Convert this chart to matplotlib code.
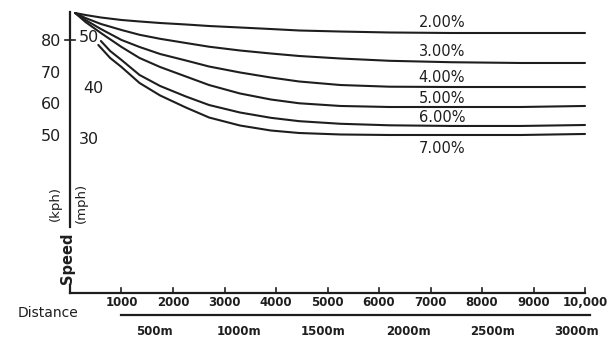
import matplotlib
matplotlib.use("Agg")
import matplotlib.pyplot as plt

# distance in feet, speed in mph
x_upper = [100, 300, 600, 1000, 1350, 1750, 2250, 2700, 3300, 3900, 4450, 5250, 6200, 7400, 8750, 10000]
speed_2 = [54.90, 54.51, 54.02, 53.53, 53.24, 52.94, 52.65, 52.35, 52.06, 51.76, 51.47, 51.27, 51.08, 50.98, 50.98, 50.98]
speed_3 = [54.90, 53.92, 52.75, 51.57, 50.63, 49.84, 49.02, 48.29, 47.55, 46.96, 46.47, 45.98, 45.53, 45.25, 45.10, 45.10]
speed_4 = [54.90, 53.53, 51.76, 49.61, 48.24, 46.86, 45.59, 44.41, 43.24, 42.25, 41.47, 40.78, 40.45, 40.39, 40.39, 40.39]
speed_5 = [54.90, 53.14, 50.98, 48.24, 46.08, 44.31, 42.45, 40.78, 39.12, 37.94, 37.20, 36.67, 36.47, 36.47, 36.47, 36.67]

x_6 = [600, 780, 1000, 1350, 1750, 2250, 2700, 3300, 3900, 4450, 5250, 6200, 7400, 8750, 10000]
speed_6 = [49.41, 47.45, 45.69, 42.75, 40.59, 38.53, 36.86, 35.39, 34.35, 33.69, 33.18, 32.88, 32.75, 32.75, 32.94]
x_7 = [550, 780, 1000, 1350, 1750, 2250, 2700, 3300, 3900, 4450, 5250, 6200, 7400, 8750, 10000]
speed_7 = [48.63, 46.08, 44.31, 41.18, 38.73, 36.37, 34.41, 32.84, 31.86, 31.37, 31.08, 30.98, 30.98, 30.98, 31.18]

grade_labels = ["2.00%", "3.00%", "4.00%", "5.00%", "6.00%", "7.00%"]
label_speed = [53.1, 47.3, 42.2, 38.2, 34.5, 28.4]

ft_ticks = [1000, 2000, 3000, 4000, 5000, 6000, 7000, 8000, 9000, 10000]
ft_labels = ["1000", "2000", "3000", "4000", "5000", "6000", "7000", "8000", "9000", "10,000"]
m_ticks = [500, 1000, 1500, 2000, 2500, 3000]
kph_ticks = [80, 70, 60, 50]
mph_ticks = [50, 40, 30]

ink = "#1e1e1e"

fig = plt.figure(figsize=(6.1, 3.37), dpi=100)
ax = fig.add_axes([0, 0, 1, 1])
ax.set_xlim(-1359, 10485)
ax.set_ylim(-8.63, 57.45)
ax.axis("off")

# grade curves
xs = [x_upper, x_upper, x_upper, x_upper, x_6, x_7]
ys = [speed_2, speed_3, speed_4, speed_5, speed_6, speed_7]
for x, y in zip(xs, ys):
    ax.plot(x, y, color=ink, lw=1.5, solid_capstyle="round", solid_joinstyle="round")

for lab, s in zip(grade_labels, label_speed):
    ax.text(7224, s, lab, ha="center", va="center", fontsize=10.5, color=ink)

# vertical axis, broken by the "Speed" label
ax.plot([0, 0], [12.9, 55.1], color=ink, lw=1.6)
ax.plot([0, 0], [0, 1.6], color=ink, lw=1.6)
ax.plot([-90, 90], [49.7, 49.7], color=ink, lw=1.2)

for k in kph_ticks:
    ax.text(-369, k / 1.609 - 0.4, str(k), ha="center", va="center", fontsize=11.5, color=ink)
for m in mph_ticks:
    ax.text(447 if m == 40 else 369, m, str(m), ha="center", va="center", fontsize=11.5, color=ink)

ax.text(-291, 17.6, "(kph)", rotation=90, ha="center", va="center", fontsize=9.5, color=ink)
ax.text(214, 17.6, "(mph)", rotation=90, ha="center", va="center", fontsize=9.5, color=ink)
ax.text(-39, 6.9, "Speed", rotation=90, ha="center", va="center", fontsize=10.5,
        color=ink, fontweight="bold")

# distance axis (feet)
ax.plot([0, 10000], [0, 0], color=ink, lw=1.6)
for t, lab in zip(ft_ticks, ft_labels):
    ax.plot([t, t], [0, 0.9], color=ink, lw=1.2)
    ax.text(t, -1.9, lab, ha="center", va="center", fontsize=8.5, color=ink, fontweight="bold")
ax.text(-427, -3.9, "Distance", ha="center", va="center", fontsize=10, color=ink)

# metric scale
ax.plot([1000, 10100], [-4.3, -4.3], color=ink, lw=1.6)
for m in m_ticks:
    ax.text(m * 3.281, -7.6, f"{m}m", ha="center", va="center", fontsize=8.5, color=ink,
            fontweight="bold")

fig.savefig("out.png", dpi=100, facecolor="white")
